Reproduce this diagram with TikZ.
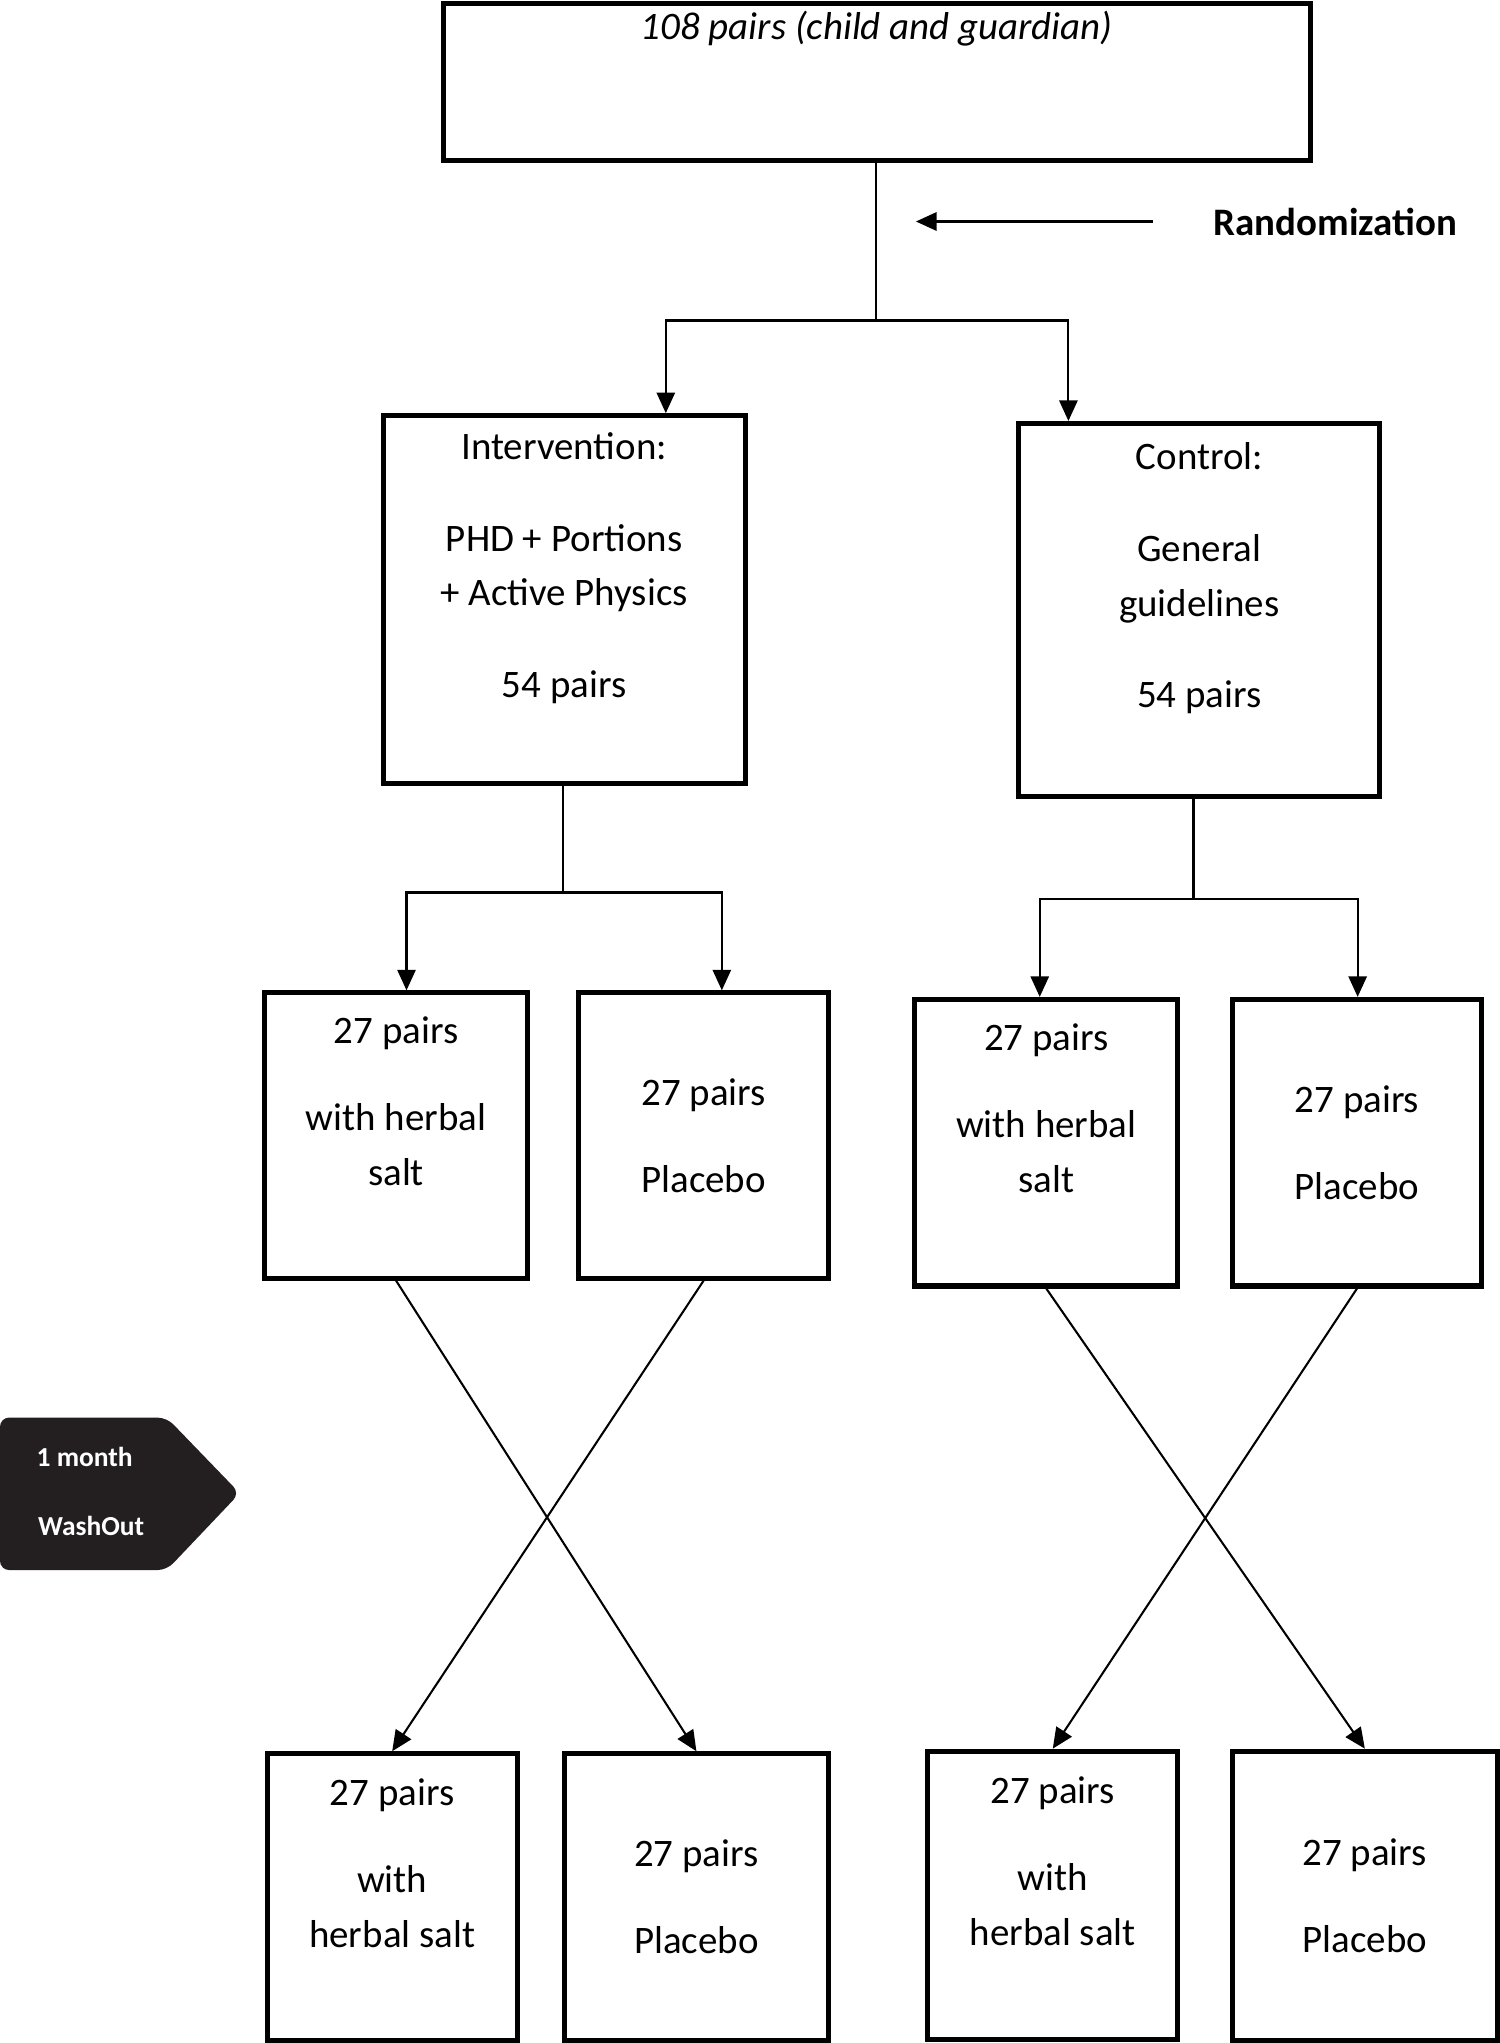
\documentclass[tikz,border=0pt]{standalone}
\usepackage{fontspec}
\setmainfont{Carlito}
\usetikzlibrary{positioning, arrows.meta}
\definecolor{washdark}{HTML}{231F20}
\tikzset{
	box/.style={draw, line width=2.2pt, align=center, inner sep=0pt, font=\fontsize{17}{24}\selectfont},
	link/.style={line width=0.9pt},
	arr/.style={link, -{Triangle[length=9pt, width=8pt]}}
}
\begin{document}
\begin{tikzpicture}[x=0.02cm, y=-0.02cm]
		\useasboundingbox (0,0) rectangle (1151,1568);
		% top and randomization
		\node[box, minimum width=13.32cm, minimum height=2.4cm] (top) at (673,63) {\textit{108 pairs (child and guardian)}\\[26pt]};
		\node[font=\fontsize{17}{20}\selectfont\bfseries] (rand) at (1025,170) {Randomization};
		\coordinate (rs) at (885,170);
		\coordinate (re) at (703,170);
		\draw[arr] (rs) -- (re);
		%
		% first split
		\node[box, minimum width=5.56cm, minimum height=5.64cm] (int) at (433,460) {Intervention:\\[16pt] PHD + Portions\\ + Active Physics\\[16pt] 54 pairs\\[6pt]};
		\node[box, minimum width=5.54cm, minimum height=5.72cm] (ctl) at (920.5,468) {Control:\\[16pt] General\\ guidelines\\[16pt] 54 pairs\\[6pt]};
		\coordinate (j0) at (672,246);
		\coordinate (jL) at (511,246);
		\coordinate (jR) at (820,246);
		\draw[link] (top.south -| j0) -- (j0);
		\draw[arr] (j0) -- (jL) -- (jL |- int.north);
		\draw[arr] (j0) -- (jR) -- (jR |- ctl.north);
		%
		% second row
		\node[box, minimum width=4.04cm, minimum height=4.38cm] (A) at (304,871.5) {27 pairs\\[14pt] with herbal\\ salt\\[6pt]};
		\node[box, minimum width=3.84cm, minimum height=4.38cm] (B) at (540,871.5) {27 pairs\\[14pt] Placebo};
		\node[box, minimum width=4.04cm, minimum height=4.4cm] (C) at (803,877) {27 pairs\\[14pt] with herbal\\ salt\\[6pt]};
		\node[box, minimum width=3.82cm, minimum height=4.4cm] (D) at (1041.5,877) {27 pairs\\[14pt] Placebo};
		\coordinate (k1) at (432,685);
		\coordinate (k1L) at (312,685);
		\coordinate (k1R) at (554,685);
		\draw[link] (int.south -| k1) -- (k1);
		\draw[arr] (k1) -- (k1L) -- (k1L |- A.north);
		\draw[arr] (k1) -- (k1R) -- (k1R |- B.north);
		\coordinate (k2) at (916,690);
		\coordinate (k2L) at (798,690);
		\coordinate (k2R) at (1042,690);
		\draw[link] (ctl.south -| k2) -- (k2);
		\draw[arr] (k2) -- (k2L) -- (k2L |- C.north);
		\draw[arr] (k2) -- (k2R) -- (k2R |- D.north);
		%
		% third row
		\node[box, minimum width=3.84cm, minimum height=4.4cm] (E) at (301,1456) {27 pairs\\[14pt] with\\ herbal salt\\[6pt]};
		\node[box, minimum width=4.06cm, minimum height=4.4cm] (F) at (534.5,1456) {27 pairs\\[14pt] Placebo};
		\node[box, minimum width=3.84cm, minimum height=4.42cm] (G) at (808,1454.5) {27 pairs\\[14pt] with\\ herbal salt\\[6pt]};
		\node[box, minimum width=4.06cm, minimum height=4.44cm] (H) at (1047.5,1455) {27 pairs\\[14pt] Placebo};
		\draw[arr] (A.south) -- (F.north);
		\draw[arr] (B.south) -- (E.north);
		\draw[arr] (C.south) -- (H.north);
		\draw[arr] (D.south) -- (G.north);
		%
		% washout tag
		\fill[washdark, rounded corners=4pt] (0,1088) -- (128,1088) -- (184,1146) -- (128,1205) -- (0,1205) -- cycle;
		\node[white, font=\fontsize{12}{14}\selectfont\bfseries] (month) at (65,1118) {1 month};
		\node[white, font=\fontsize{12}{14}\selectfont\bfseries] (wash) at (70,1171) {WashOut};
\end{tikzpicture}
\end{document}
